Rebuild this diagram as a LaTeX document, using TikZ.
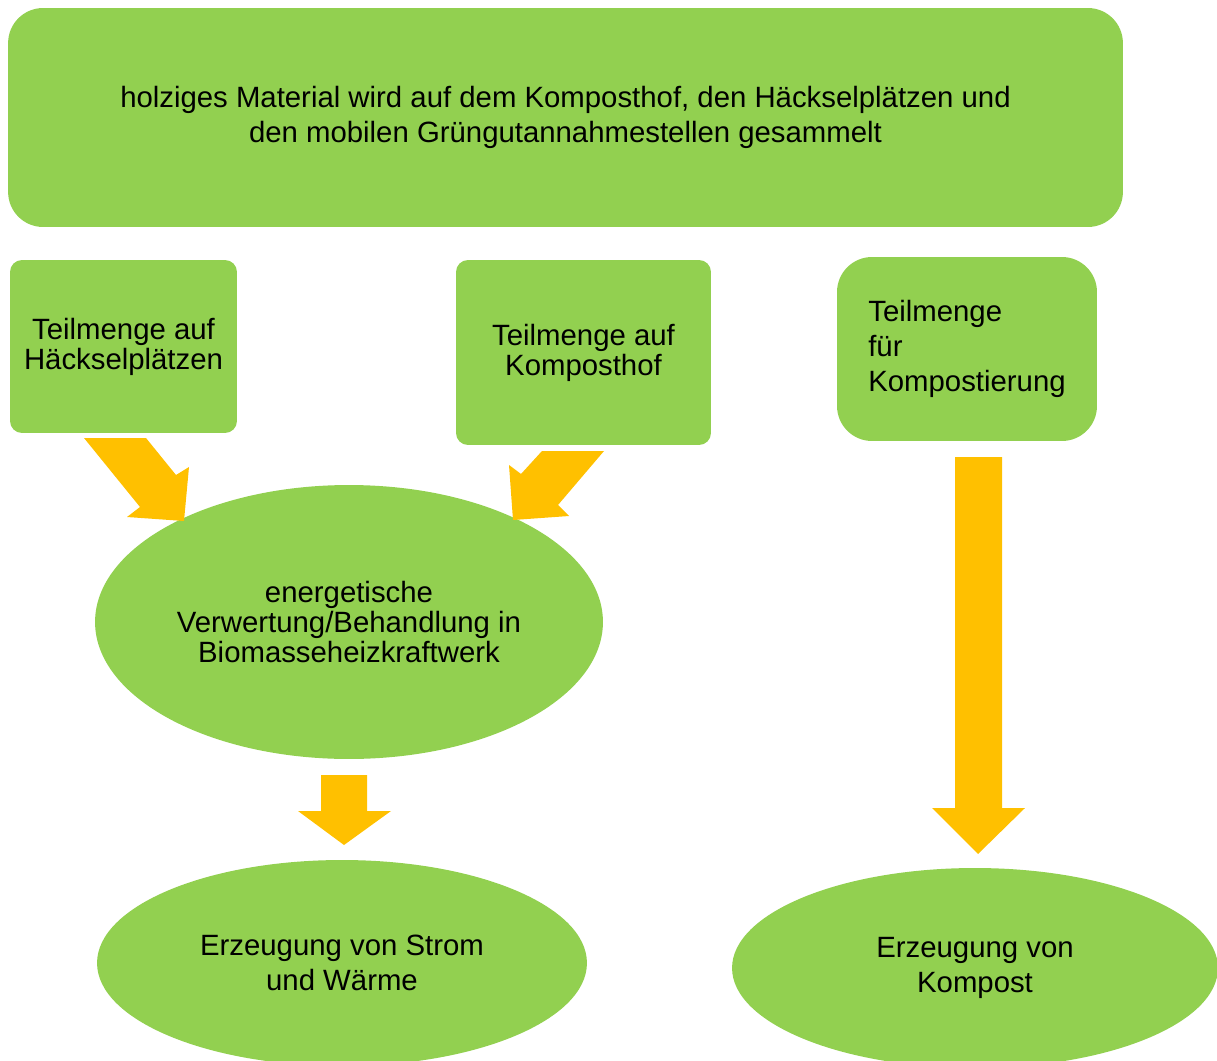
\documentclass[tikz,border=0pt]{standalone}
\usepackage{fontspec}
\setmainfont{Liberation Sans}
\usepackage{tikz}
\usetikzlibrary{shapes.geometric}
\definecolor{leafgreen}{HTML}{92D050}
\definecolor{amber}{HTML}{FFC000}

\begin{document}
\begin{tikzpicture}[x=0.02cm,y=-0.02cm,
	greenbox/.style={fill=leafgreen,draw=none,inner sep=0pt,align=center,font=\fontsize{16.7}{20}\selectfont},
	tightlines/.style={font=\fontsize{16.7}{17}\selectfont},
	greenoval/.style={greenbox,ellipse},
	blockarrow/.style={fill=amber,draw=none}]
			\useasboundingbox (0,0) rectangle (1217,1061);
			\clip (0,0) rectangle (1217,1061);
			\node[greenbox,rounded corners=0.7cm,minimum width=22.3cm,minimum height=4.38cm] (material) at (565.5,117.5)
				{holziges Material wird auf dem Komposthof, den Häckselplätzen und\\den mobilen Grüngutannahmestellen gesammelt};
			\node[greenbox,tightlines,rounded corners=0.24cm,minimum width=4.54cm,minimum height=3.46cm] (haecksel) at (123.5,346.5)
				{Teilmenge auf\\Häckselplätzen};
			\node[greenbox,tightlines,rounded corners=0.24cm,minimum width=5.1cm,minimum height=3.7cm] (hof) at (583.5,352.5)
				{Teilmenge auf\\Komposthof};
			\node[greenbox,align=left,rounded corners=0.7cm,minimum width=5.2cm,minimum height=3.68cm] (kompostierung) at (967,349)
				{Teilmenge\\für\\Kompostierung};
			\node[greenoval,tightlines,minimum width=10.16cm,minimum height=5.48cm] (kraftwerk) at (349,622)
				{energetische\\Verwertung/Behandlung in\\Biomasseheizkraftwerk};
			\node[greenoval,minimum width=9.8cm,minimum height=4.12cm] (strom) at (342,963)
				{Erzeugung von Strom\\und Wärme};
			\node[greenoval,minimum width=9.72cm,minimum height=4.0cm] (kompost) at (975,968)
				{Erzeugung von\\Kompost};
			\fill[blockarrow] (84,438)--(146,438)--(176,475)--(189,467)--(184,521)--(127,517)--(140,507)--cycle;
			\fill[blockarrow] (542,451)--(604,451)--(558,505)--(569,516)--(513,520)--(509,465)--(521,474)--cycle;
			\fill[blockarrow] (321,775)--(367,775)--(367,811)--(391,811)--(344,845)--(298,811)--(321,811)--cycle;
			\fill[blockarrow] (955,457)--(1002,457)--(1002,808)--(1025,808)--(978,854)--(932,808)--(955,808)--cycle;
		\end{tikzpicture}
\end{document}
